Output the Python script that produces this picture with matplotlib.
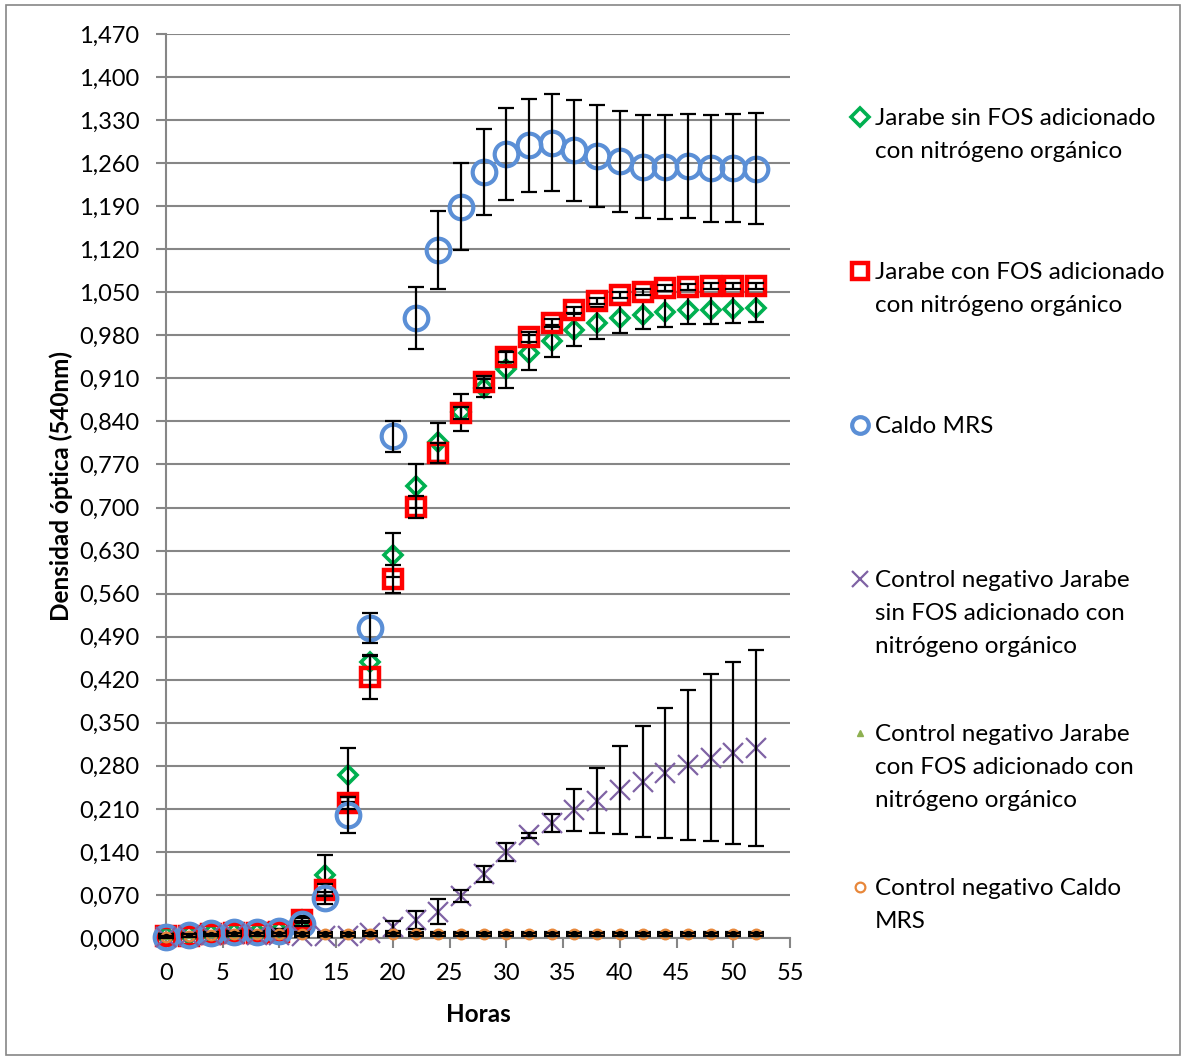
"""Curvas de crecimiento: densidad óptica (540 nm) frente al tiempo."""

import matplotlib
matplotlib.use("Agg")
import matplotlib.pyplot as plt
import numpy as np
from matplotlib.lines import Line2D
from matplotlib.patches import Rectangle

plt.rcParams["font.family"] = ["Lato", "DejaVu Sans"]

horas = np.arange(0, 53, 2)

sin_fos = [0.003, 0.005, 0.006, 0.008, 0.008, 0.012, 0.030, 0.102, 0.265, 0.449,
           0.623, 0.735, 0.806, 0.855, 0.894, 0.925, 0.952, 0.971, 0.988, 1.000,
           1.008, 1.013, 1.018, 1.022, 1.022, 1.023, 1.024]
sin_fos_err = [0.003, 0.003, 0.003, 0.003, 0.003, 0.003, 0.005, 0.033, 0.044, 0.010,
               0.036, 0.036, 0.031, 0.030, 0.015, 0.030, 0.028, 0.026, 0.026, 0.026,
               0.024, 0.023, 0.024, 0.024, 0.023, 0.023, 0.023]

con_fos = [0.003, 0.004, 0.006, 0.008, 0.008, 0.010, 0.029, 0.078, 0.219, 0.424,
           0.584, 0.701, 0.789, 0.854, 0.904, 0.945, 0.977, 1.000, 1.021, 1.036,
           1.046, 1.051, 1.057, 1.059, 1.060, 1.060, 1.060]
con_fos_err = [0.003, 0.003, 0.003, 0.003, 0.003, 0.003, 0.003, 0.010, 0.010, 0.036,
               0.023, 0.018, 0.016, 0.010, 0.010, 0.008, 0.008, 0.006, 0.005, 0.005,
               0.005, 0.005, 0.005, 0.005, 0.005, 0.005, 0.005]

mrs = [0.002, 0.005, 0.008, 0.010, 0.010, 0.012, 0.023, 0.065, 0.200, 0.504,
       0.816, 1.008, 1.119, 1.189, 1.246, 1.275, 1.289, 1.293, 1.281, 1.271,
       1.263, 1.254, 1.254, 1.255, 1.252, 1.252, 1.251]
mrs_err = [0.002, 0.002, 0.002, 0.002, 0.002, 0.002, 0.004, 0.010, 0.030, 0.025,
           0.025, 0.050, 0.063, 0.071, 0.070, 0.075, 0.076, 0.079, 0.082, 0.083,
           0.082, 0.084, 0.085, 0.085, 0.087, 0.088, 0.090]

ctrl_sin_fos = [0.002, 0.004, 0.005, 0.006, 0.005, 0.005, 0.004, 0.003, 0.004, 0.008,
                0.018, 0.029, 0.043, 0.068, 0.104, 0.140, 0.167, 0.187, 0.208, 0.223,
                0.241, 0.254, 0.268, 0.281, 0.293, 0.301, 0.309]
ctrl_sin_fos_err = [0.002, 0.002, 0.002, 0.002, 0.002, 0.002, 0.002, 0.002, 0.002, 0.004,
                    0.009, 0.015, 0.021, 0.010, 0.013, 0.015, 0.004, 0.015, 0.034, 0.053,
                    0.072, 0.090, 0.106, 0.122, 0.136, 0.148, 0.160]

ctrl_con_fos = [0.004, 0.005, 0.006, 0.007, 0.007, 0.008, 0.008, 0.008, 0.008, 0.008,
                0.009, 0.008, 0.008, 0.008, 0.008, 0.008, 0.008, 0.008, 0.008, 0.008,
                0.008, 0.008, 0.008, 0.008, 0.008, 0.008, 0.008]
ctrl_con_fos_err = [0.002] * 27

ctrl_mrs = [0.002, 0.004, 0.005, 0.006, 0.006, 0.006, 0.006, 0.006, 0.006, 0.006,
            0.006, 0.006, 0.006, 0.006, 0.006, 0.006, 0.006, 0.006, 0.006, 0.006,
            0.006, 0.006, 0.006, 0.006, 0.006, 0.006, 0.006]
ctrl_mrs_err = [0.002] * 27

etiquetas = [
    "Jarabe sin FOS adicionado\ncon nitrógeno orgánico",
    "Jarabe con FOS adicionado\ncon nitrógeno orgánico",
    "Caldo MRS",
    "Control negativo Jarabe\nsin FOS adicionado con\nnitrógeno orgánico",
    "Control negativo Jarabe\ncon FOS adicionado con\nnitrógeno orgánico",
    "Control negativo Caldo\nMRS",
]

# estilo de cada serie (marcador, color, tamaño, grosor, relleno)
estilos = [
    dict(marker="D", mec="#00B050", mfc="none", ms=9, mew=2.6),
    dict(marker="s", mec="#FF0000", mfc="none", ms=12.5, mew=3.2),
    dict(marker="o", mec="#5B8FD6", mfc="none", ms=17, mew=3.0),
    dict(marker="x", mec="#7F62A4", mfc="none", ms=15, mew=1.6),
    dict(marker="^", mec="#8EB050", mfc="#8EB050", ms=5, mew=1.0),
    dict(marker="o", mec="#E8873A", mfc="none", ms=7, mew=1.6),
]
series = [(sin_fos, sin_fos_err), (con_fos, con_fos_err), (mrs, mrs_err),
          (ctrl_sin_fos, ctrl_sin_fos_err), (ctrl_con_fos, ctrl_con_fos_err),
          (ctrl_mrs, ctrl_mrs_err)]

fig = plt.figure(figsize=(11.86, 10.59), dpi=100, facecolor="white")
ax = fig.add_axes([166 / 1186, 121 / 1059, 624 / 1186, 904 / 1059])

gris = "#868686"
for i, ((y, e), st) in enumerate(zip(series, estilos)):
    z = 3 + i
    ax.plot(horas, y, ls="none", zorder=z, clip_on=False, **st)
    ax.errorbar(horas, y, yerr=e, fmt="none", ecolor="black", elinewidth=1.6,
                capsize=6, capthick=1.6, zorder=z + 0.5, clip_on=False)

yticks = np.round(np.arange(0, 1.4701, 0.07), 3)
ax.set_ylim(0, 1.47)
ax.set_yticks(yticks)
ax.set_yticklabels([f"{v:.3f}".replace(".", ",") for v in yticks])
ax.set_xlim(0, 55)
ax.set_xticks(np.arange(0, 56, 5))

ax.grid(axis="y", color=gris, lw=1.5, zorder=0)
ax.set_axisbelow(True)
for s in ["top", "right"]:
    ax.spines[s].set_visible(False)
for s in ["left", "bottom"]:
    ax.spines[s].set_color(gris)
    ax.spines[s].set_linewidth(1.5)
ax.tick_params(axis="both", colors=gris, labelcolor="black", labelsize=17,
               length=7, width=1.5, direction="out")
ax.tick_params(axis="y", pad=12)
ax.tick_params(axis="x", pad=11)

ax.set_ylabel("Densidad óptica (540nm)", fontsize=17.5, fontweight="bold", labelpad=4)
ax.set_xlabel("Horas", fontsize=17.5, fontweight="bold", labelpad=14)

# leyenda manual (posiciones como en la hoja de cálculo)
ley_y = [117, 271, 425, 579, 733, 887]
for (st, txt, yp) in zip(estilos, etiquetas, ley_y):
    yf = 1 - yp / 1059
    fig.add_artist(Line2D([860 / 1186], [yf], ls="none", transform=fig.transFigure,
                          **{**st, "ms": min(st["ms"], 12)}))
    fig.text(875 / 1186, yf + 9 / 1059, txt, ha="left", va="top", fontsize=17.5,
             linespacing=1.72)

fig.add_artist(Rectangle((6 / 1186, 4 / 1059), 1174 / 1186, 1050 / 1059,
                         transform=fig.transFigure, fill=False, ec=gris, lw=1.2))

fig.savefig("out.png", dpi=100, facecolor="white")
